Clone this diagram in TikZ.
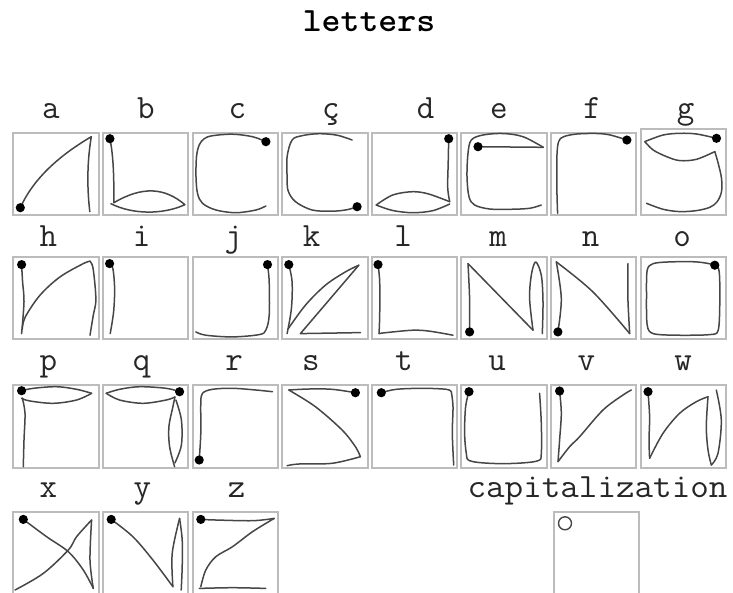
\documentclass[tikz,border=0pt]{standalone}
\definecolor{boxc}{RGB}{188,188,188}
\definecolor{inkc}{RGB}{70,70,70}
\tikzset{
  box/.style={draw=boxc, line width=2pt, rectangle, inner sep=0pt, outer sep=0pt, minimum width=85.5pt, minimum height=82.5pt},
  lab/.style={font=\fontsize{34}{38}\selectfont\ttfamily, inner sep=0pt, anchor=base, text=black!85},
  titlelab/.style={font=\fontsize{34}{38}\selectfont\ttfamily\bfseries, inner sep=0pt, anchor=base, text=black},
  ink/.style={draw=inkc, line width=1.5pt, line cap=round, line join=round},
  sm/.style={smooth, tension=0.55},
}
\newcommand\startdot[1]{\fill[black] #1 circle[radius=4.6pt];}
\newcommand\wide[1]{\scalebox{1.06}[1]{#1}}
\begin{document}
\begin{tikzpicture}[x=1pt,y=-1pt]
\useasboundingbox (0,0) rectangle (733,592);
\node[titlelab] (title) at (369,31) {\wide{letters}};

% ---------- labels ----------
\node[lab] (la) at (50.8,118.3) {a};
\node[lab] (lb) at (145.8,118.3) {b};
\node[lab] (lc) at (237.5,118.3) {c};
\node[lab] (lcc) at (330.8,118.3) {ç};
\node[lab] (ld) at (425.5,118.3) {d};
\node[lab] (le) at (498.8,118.3) {e};
\node[lab] (lf) at (592.2,118.3) {f};
\node[lab] (lg) at (685.5,118.3) {g};
\node[lab] (lh) at (48.3,246.6) {h};
\node[lab] (li) at (141.7,246.6) {i};
\node[lab] (lj) at (233.3,246.6) {j};
\node[lab] (lk) at (311.7,246.6) {k};
\node[lab] (ll) at (403,246.6) {l};
\node[lab] (lm) at (498,246.6) {m};
\node[lab] (ln) at (590.5,246.6) {n};
\node[lab] (lo) at (682.2,246.6) {o};
\node[lab] (lp) at (48.3,370) {p};
\node[lab] (lq) at (141.7,370) {q};
\node[lab] (lr) at (234.2,370) {r};
\node[lab] (ls) at (310.8,370) {s};
\node[lab] (lt) at (403.8,370) {t};
\node[lab] (lu) at (497.2,370) {u};
\node[lab] (lv) at (586.3,370) {v};
\node[lab] (lw) at (683,370) {w};
\node[lab] (lx) at (48.3,497.5) {x};
\node[lab] (ly) at (142.5,497.5) {y};
\node[lab] (lz) at (236.7,497.5) {z};
\node[lab] (lcap) at (597.5,497.5) {\wide{capitalization}};

% ---------- boxes ----------
\node[box] (ba) at (56.05,173.95) {};
\node[box] (bb) at (145.65,173.95) {};
\node[box] (bc) at (235.25,173.95) {};
\node[box] (bcc) at (324.85,173.95) {};
\node[box] (bd) at (414.45,173.95) {};
\node[box] (be) at (504.05,173.95) {};
\node[box] (bf) at (593.65,173.95) {};
\node[box, minimum height=85.7pt] (bg) at (683.25,172.15) {};
\node[box] (bh) at (56.05,298.15) {};
\node[box] (bi) at (145.65,298.15) {};
\node[box] (bj) at (235.25,298.15) {};
\node[box] (bk) at (324.85,298.15) {};
\node[box] (bl) at (414.45,298.15) {};
\node[box] (bm) at (504.05,298.15) {};
\node[box] (bn) at (593.65,298.15) {};
\node[box] (bo) at (683.25,298.15) {};
\node[box] (bp) at (56.05,426.25) {};
\node[box] (bq) at (145.65,426.25) {};
\node[box] (br) at (235.25,426.25) {};
\node[box] (bs) at (324.85,426.25) {};
\node[box] (bt) at (414.45,426.25) {};
\node[box] (bu) at (504.05,426.25) {};
\node[box] (bv) at (593.65,426.25) {};
\node[box] (bw) at (683.25,426.25) {};
\node[box] (bx) at (56.05,552.95) {};
\node[box] (by) at (145.65,552.95) {};
\node[box] (bz) at (235.25,552.95) {};
\node[box] (bcap) at (596.25,552.95) {};

% ---------- strokes: row 1 ----------
\begin{scope}[shift={(13.3,132.7)}] % a
  \draw[ink] (7,75) .. controls (19,48.3) and (42.7,24.7) .. (78,4) .. controls (74,28) and (73.5,53) .. (76.5,79);
  \startdot{(7,75)}
\end{scope}
\begin{scope}[shift={(102.9,132.7)}] % b
  \draw[ink] (7,6) .. controls (11,25) and (11,50) .. (11,70) .. controls (40,53) and (62,55) .. (82,72) .. controls (60,82) and (30,82) .. (8,71);
  \startdot{(7,6)}
\end{scope}
\begin{scope}[shift={(192.5,132.7)}] % c
  \draw[ink] plot[sm] coordinates {(73.4,9) (60,4) (40,1.5) (20,3) (11.7,6) (6.7,12.3) (4,24) (3.5,44) (5,60.6) (10,70.6) (23.4,77.3) (43.4,80) (63.4,77.3) (73.4,73.3)};
  \startdot{(73.4,9)}
\end{scope}
\begin{scope}[shift={(282.1,132.7)}] % c cedilla
  \draw[ink] plot[sm] coordinates {(70,7.3) (55,2.5) (36.7,1) (20,3) (10,7.3) (5,24) (5,44) (6,58) (13.4,69) (30,77.3) (50,78.5) (65,77) (75,74)};
  \startdot{(75,74)}
\end{scope}
\begin{scope}[shift={(371.7,132.7)}] % d
  \draw[ink] plot[sm] coordinates {(77,6) (76.5,30) (76,55) (78,69)};
  \draw[ink] plot[sm] coordinates {(78,69) (57,61.3) (41,59) (21,62.3) (4.5,72.3)};
  \draw[ink] plot[sm] coordinates {(4.5,72.3) (21,77.8) (41,80) (61,78) (78,71.3)};
  \startdot{(77,6)}
\end{scope}
\begin{scope}[shift={(461.3,132.7)}] % e
  \draw[ink] (16.7,14) -- (82,14.6);
  \draw[ink] plot[sm] coordinates {(82,14.6) (61.7,4) (41.7,0.8) (21.7,2.3) (10,7.3) (6.7,20.6) (5.7,44) (7.7,64) (13.3,72.3) (28.3,76.3) (48.3,76.6) (68.3,75.6) (80,72.3)};
  \startdot{(16.7,14)}
\end{scope}
\begin{scope}[shift={(550.9,132.7)}] % f
  \draw[ink] plot[sm] coordinates {(76,7.3) (59.3,2.3) (46,0.8) (26,1.3) (12.7,4) (7.7,9) (6,24) (6,57.3) (6.7,80.6)};
  \startdot{(76,7.3)}
\end{scope}
\begin{scope}[shift={(640.5,129.3)}] % g
  \draw[ink] plot[sm] coordinates {(76,9) (56,4.7) (39.3,4) (22.7,5.7) (4.3,12.3)};
  \draw[ink] plot[sm] coordinates {(4.3,12.3) (12.7,20.7) (26,27.3) (39.3,31.3) (56,30) (74.3,22.3)};
  \draw[ink] plot[sm] coordinates {(74.3,22.3) (77.7,34) (81,49) (81,62.3) (76.7,72.3) (69.3,78) (56,81.3) (39.3,82.3) (22.7,80) (6,74)};
  \startdot{(76,9)}
\end{scope}

% ---------- strokes: row 2 ----------
\begin{scope}[shift={(13.3,256.9)}] % h
  \draw[ink] plot[sm] coordinates {(8.3,7.7) (9.3,25) (10.7,45) (8.3,76.7)};
  \draw[ink] plot[sm] coordinates {(9,72) (12,60) (26.7,38.3) (46.7,20) (70,6.7) (76.7,4.3)};
  \draw[ink] plot[sm] coordinates {(76.7,4.3) (79.5,10) (81.7,28.3) (82.5,45) (80,58.3) (76.7,78.3)};
  \startdot{(8.3,7.7)}
\end{scope}
\begin{scope}[shift={(102.9,256.9)}] % i
  \draw[ink] plot[sm] coordinates {(6.7,6.7) (10,11.7) (11.7,31.7) (10.7,55) (7.3,76.7)};
  \startdot{(6.7,6.7)}
\end{scope}
\begin{scope}[shift={(192.5,256.9)}] % j
  \draw[ink] plot[sm] coordinates {(75,7.7) (76.7,25) (76.7,58.3) (73.3,73.3) (66.7,77.7) (40,80) (13.3,78.3) (3.3,75)};
  \startdot{(75,7.7)}
\end{scope}
\begin{scope}[shift={(282.1,256.9)}] % k
  \draw[ink] plot[sm] coordinates {(6.7,7.7) (10,25) (9.3,51.7) (5,76.7)};
  \draw[ink] plot[sm] coordinates {(6,72) (23.3,48.3) (43.3,28.3) (63.3,15) (76.7,8.3)};
  \draw[ink] (76.7,8.3) -- (18.3,76.7) -- (78.3,75.7);
  \startdot{(6.7,7.7)}
\end{scope}
\begin{scope}[shift={(371.7,256.9)}] % l
  \draw[ink] plot[sm] coordinates {(6.3,7.7) (8,25) (8,58.3) (7.3,76.7)};
  \draw[ink] plot[sm] coordinates {(7.3,76.7) (14.6,75.7) (41.3,73.3) (58,74.3) (81.3,78.3)};
  \startdot{(6.3,7.7)}
\end{scope}
\begin{scope}[shift={(461.3,256.9)}] % m
  \draw[ink] plot[sm] coordinates {(8.3,75) (8.3,41.7) (6.7,6.7)};
  \draw[ink] (6.7,6.7) -- (71.7,73.3);
  \draw[ink] plot[sm] coordinates {(71.7,73.3) (68.3,41.7) (70,18.3) (74.3,5) (80,18.3) (81.7,45) (81,76.7)};
  \startdot{(8.3,75)}
\end{scope}
\begin{scope}[shift={(550.9,256.9)}] % n
  \draw[ink] plot[sm] coordinates {(7,75) (10.4,41.7) (5.4,5)};
  \draw[ink] plot[sm] coordinates {(5.4,5) (42,35) (78.8,76.7)};
  \draw[ink] plot[sm] coordinates {(78.8,76.7) (77,41.7) (77,6.7)};
  \startdot{(7,75)}
\end{scope}
\begin{scope}[shift={(640.5,256.9)}] % o
  \draw[ink] plot[smooth cycle, tension=0.5] coordinates {(74.3,8.3) (56,5) (29.3,5) (12.7,6.7) (6.7,13.3) (6,38.3) (6.7,68.3) (12.7,76.7) (36,78.3) (69.3,77.7) (77.7,73.3) (79.3,45) (78.7,15)};
  \startdot{(74.3,8.3)}
\end{scope}

% ---------- strokes: row 3 ----------
\begin{scope}[shift={(13.3,385)}] % p
  \draw[ink] plot[sm] coordinates {(8.3,5.7) (20,3.3) (43.3,1.7) (63.3,4.3) (78.3,8.3)};
  \draw[ink] plot[sm] coordinates {(78.3,8.3) (63.3,15) (40,18.3) (16.7,16) (8.3,13.3)};
  \draw[ink] plot[sm] coordinates {(9,13) (11.7,28.3) (10.7,55) (10,81.7)};
  \startdot{(8.3,5.7)}
\end{scope}
\begin{scope}[shift={(102.9,385)}] % q
  \draw[ink] plot[sm] coordinates {(76.7,6.7) (63.3,3.3) (36.7,1.7) (16.7,4.3) (3.3,8.3)};
  \draw[ink] plot[sm] coordinates {(3.3,8.3) (16.7,15) (40,18.3) (63.3,15) (72,12)};
  \draw[ink] plot[sm] coordinates {(72,12) (70,21.7) (66,41.7) (66.7,61.7) (71.7,81.7)};
  \draw[ink] plot[sm] coordinates {(73,15) (78.5,35) (78.5,60) (72,78)};
  \startdot{(76.7,6.7)}
\end{scope}
\begin{scope}[shift={(192.5,385)}] % r
  \draw[ink] plot[sm] coordinates {(6.7,75) (8.3,48.3) (8.3,18.3) (10,8.3) (20,4.3) (40,3.3) (63.3,5) (80,6.7)};
  \startdot{(6.7,75)}
\end{scope}
\begin{scope}[shift={(282.1,385)}] % s
  \draw[ink] plot[sm] coordinates {(73.3,7.7) (50,4.3) (26.7,4) (6.7,5)};
  \draw[ink] plot[sm] coordinates {(6.7,5) (33.3,21.7) (60,45) (73.3,61.7) (78.3,71.7)};
  \draw[ink] plot[sm] coordinates {(78.3,71.7) (50,78.3) (16.7,79) (5,80.7)};
  \startdot{(73.3,7.7)}
\end{scope}
\begin{scope}[shift={(371.7,385)}] % t
  \draw[ink] plot[sm] coordinates {(9.6,7.7) (24.6,4.3) (51.3,3.3) (74.6,4.3) (79.6,6.7)};
  \draw[ink] plot[sm] coordinates {(79.6,6.7) (81.3,21.7) (80.6,48.3) (82,80)};
  \startdot{(9.6,7.7)}
\end{scope}
\begin{scope}[shift={(461.3,385)}] % u
  \draw[ink] plot[sm] coordinates {(7.7,6.7) (4.3,21.7) (3.3,48.3) (5,68.3) (8.3,75.7) (28.3,78.3) (55,78.3) (76.7,75.7) (80,68.3) (80,38.3) (78.3,8.3)};
  \startdot{(7.7,6.7)}
\end{scope}
\begin{scope}[shift={(550.9,385)}] % v
  \draw[ink] plot[sm] coordinates {(8.7,6) (10.4,28.3) (8.7,55) (7.1,76.7)};
  \draw[ink] plot[sm] coordinates {(7.1,76.7) (18.7,61.7) (28.7,51.7) (52.1,25) (72.1,10) (80.4,5)};
  \startdot{(8.7,6)}
\end{scope}
\begin{scope}[shift={(640.5,385)}] % w
  \draw[ink] plot[sm] coordinates {(7.5,6.7) (9.1,31.7) (8.5,55) (9.1,73.3)};
  \draw[ink] plot[sm] coordinates {(9.1,73.3) (22.5,48.3) (39.1,28.3) (55.8,16.7) (67.5,11.7)};
  \draw[ink] plot[sm] coordinates {(67.5,11.7) (65.8,41.7) (67.5,65) (70.8,80)};
  \draw[ink] plot[sm] coordinates {(70.8,80) (77.5,68.3) (80.8,35) (75.8,5)};
  \startdot{(7.5,6.7)}
\end{scope}

% ---------- strokes: row 4 ----------
\begin{scope}[shift={(13.3,511.7)}] % x
  \draw[ink] plot[sm] coordinates {(10,7.7) (33.3,25) (55,40) (70,58.3) (80,76.7)};
  \draw[ink] plot[sm] coordinates {(80,76.7) (76.7,48.3) (78.3,8.3)};
  \draw[ink] plot[sm] coordinates {(78.3,8.3) (63.3,25) (55,38.3) (30,61.7) (1.7,78.3)};
  \startdot{(10,7.7)}
\end{scope}
\begin{scope}[shift={(102.9,511.7)}] % y
  \draw[ink] plot[sm] coordinates {(8.3,7.7) (30,25) (50,48.3) (70,75)};
  \draw[ink] plot[sm] coordinates {(70,75) (69.3,41.7) (76.7,6.7)};
  \draw[ink] plot[sm] coordinates {(76.7,6.7) (79.3,28.3) (79.3,55) (78.3,78.3)};
  \startdot{(8.3,7.7)}
\end{scope}
\begin{scope}[shift={(192.5,511.7)}] % z
  \draw[ink] plot[sm] coordinates {(8.3,7.7) (23.3,8.3) (60,9) (81.7,6.7)};
  \draw[ink] plot[sm] coordinates {(81.7,6.7) (60,20) (40,35) (23.3,45) (13.3,58.3) (8.3,75)};
  \draw[ink] plot[sm] coordinates {(6.7,76.7) (40,76) (73.3,76.7)};
  \startdot{(8.3,7.7)}
\end{scope}
\begin{scope}[shift={(553.5,511.7)}] % capitalization
  \draw[inkc, line width=1.4pt] (11.5,11.6) circle[radius=6.5pt];
\end{scope}
\end{tikzpicture}
\end{document}
